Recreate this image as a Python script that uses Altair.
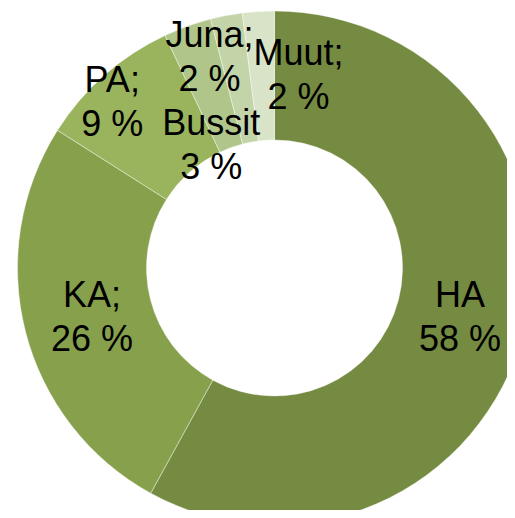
import altair as alt
import pandas as pd

# ---- data ----
categories = ["HA", "KA", "PA", "Bussit", "Juna", "Muut"]
shares = [58, 26, 9, 3, 2, 2]
label_names = ["HA", "KA;\u00a0", "PA;", "Bussit\u00a0", "Juna;\u00a0", "Muut;\u00a0"]

# ---- styling / layout (kept apart from the data) ----
colors = ["#758B41", "#87A04C", "#9AB45D", "#AFC589", "#C3D4A9", "#D8E3C7"]
CX, CY = 266.5, 260          # donut centre inside the plot area
R_OUT, R_IN, R_LAB = 257, 128, 192.5
LIFT = -21                   # vertical correction for the two-line labels
# label nudges (px) away from the default mid-ring position, like Excel's label layout
nudges = {
    "HA": (-1, 1),
    "KA": (4, 1),
    "PA": (-35, -22),
    "Bussit": (2, 58),
    "Juna": (-29, -22),
    "Muut": (36, -1),
}
FONT = "Liberation Sans"

df = pd.DataFrame({
    "cat": categories,
    "share": shares,
    "idx": list(range(len(categories))),
    "label": [f"{n}\n{v} %" for n, v in zip(label_names, shares)],
})

base = alt.Chart(df)

arcs = base.mark_arc(
    outerRadius=R_OUT, innerRadius=R_IN, stroke="#ffffff", strokeWidth=0.5,
    strokeOpacity=0.8
).encode(
    theta=alt.Theta("share:Q", stack=True),
    order=alt.Order("idx:Q"),
    color=alt.Color("cat:N", scale=alt.Scale(domain=categories, range=colors), legend=None),
    x=alt.value(CX),
    y=alt.value(CY),
)

layers = [arcs]
for cat in categories:
    dx, dy = nudges[cat]
    t = base.transform_window(
        cum="sum(share)", sort=[alt.SortField("idx")]
    ).transform_calculate(
        mid="datum.cum - datum.share / 2"
    ).transform_filter(
        alt.datum.cat == cat
    ).mark_text(
        radius=R_LAB, font=FONT, fontSize=36, lineHeight=44, lineBreak="\n",
        align="center", baseline="middle", color="#000000", dx=dx, dy=dy + LIFT
    ).encode(
        theta=alt.Theta("mid:Q", stack=None),
        text="label:N",
        x=alt.value(CX),
        y=alt.value(CY),
    )
    layers.append(t)

chart = alt.layer(*layers).properties(
    width=499, height=502, padding=0,
    autosize=alt.AutoSizeParams(type="none"),
).configure_view(stroke=None)

chart.save("out.html", embed_options={"renderer": "svg", "actions": False})
